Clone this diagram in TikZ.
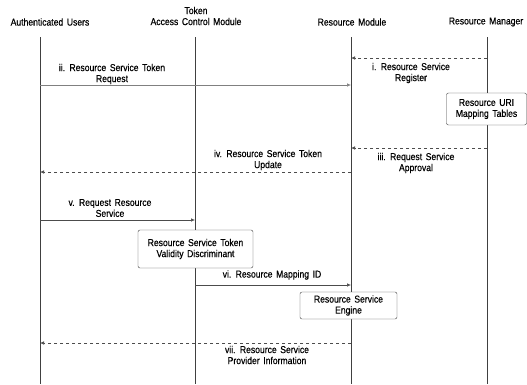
\documentclass[tikz,border=0pt]{standalone}
\usepackage{fontspec}
\setmainfont{Liberation Sans}[FakeStretch=0.86,WordSpace=1.5,FakeBold=0.4]
\usetikzlibrary{arrows.meta}

\begin{document}
\begin{tikzpicture}[x=1pt,y=-1pt,font=\fontsize{10}{11}\selectfont,
	lifeline/.style={color=black!75,semithick},
	msg/.style={color=black!70,semithick,-{Latex[length=4pt,width=3.5pt]}},
	msglabel/.style={align=center,inner sep=0pt},
	modbox/.style={draw=black!75,fill=white,rounded corners=2pt,align=center,inner sep=0pt}]
	% page size fixed first
	\useasboundingbox (0,0) rectangle (527,384);
	% the headers
	\node (au)  at (50,22)  {Authenticated Users};
	\node (tac) at (196,16) [align=center] {Token\\Access Control Module};
	\node (rsm) at (352,22) {Resource Module};
	\node (rmg) at (486,22) {Resource Manager};
	% the lifelines
	\foreach \n/\x in {au/40, tac/195, rsm/351, rmg/487} {
		\coordinate (\n-top) at (\x,37);
		\coordinate (\n-bot) at (\x,384);
		\draw[lifeline] (\n-top) -- (\n-bot);
	}
	% boxes on the lifelines
	\node[modbox,minimum width=80pt,minimum height=32pt] (uri) at (486.5,109) {Resource URI\\Mapping Tables};
	\node[modbox,minimum width=115pt,minimum height=38pt] (vd) at (195.5,249) {Resource Service Token\\Validity Discriminant};
	\node[modbox,minimum width=97pt,minimum height=27pt] (eng) at (348.5,305.5) {Resource Service\\Engine};
	% end points of the messages
	\foreach \m/\a/\b/\y in {i/rmg/rsm/58, ii/au/rsm/85, iii/rmg/rsm/148, iv/rsm/au/172,
		v/au/tac/220, vi/tac/rsm/285, vii/rsm/au/343} {
		\coordinate (\m-s) at (\a-top |- 0,\y);
		\coordinate (\m-e) at (\b-top |- 0,\y);
	}
	% the messages
	\draw[msg,dashed] (i-s) -- (i-e);
	\draw[msg,color=black!50] (ii-s) -- (ii-e);
	\draw[msg,dashed] (iii-s) -- (iii-e);
	\draw[msg,dashed] (iv-s) -- (iv-e);
	\draw[msg] (v-s) -- (v-e);
	\draw[msg] (vi-s) -- (vi-e);
	\draw[msg,dashed] (vii-s) -- (vii-e);
	% the message labels
	\node[msglabel] (l-i)   at (411,73)  {i. Resource Service\\Register};
	\node[msglabel] (l-ii)  at (112,74)  {ii. Resource Service Token\\Request};
	\node[msglabel] (l-iii) at (416,163) {iii. Request Service\\Approval};
	\node[msglabel] (l-iv)  at (268,160) {iv. Resource Service Token\\Update};
	\node[msglabel] (l-v)   at (110,208) {v. Request Resource\\Service};
	\node[msglabel] (l-vi)  at (272,275) {vi. Resource Mapping ID};
	\node[msglabel] (l-vii) at (267,355) {vii. Resource Service\\Provider Information};
\end{tikzpicture}
\end{document}
